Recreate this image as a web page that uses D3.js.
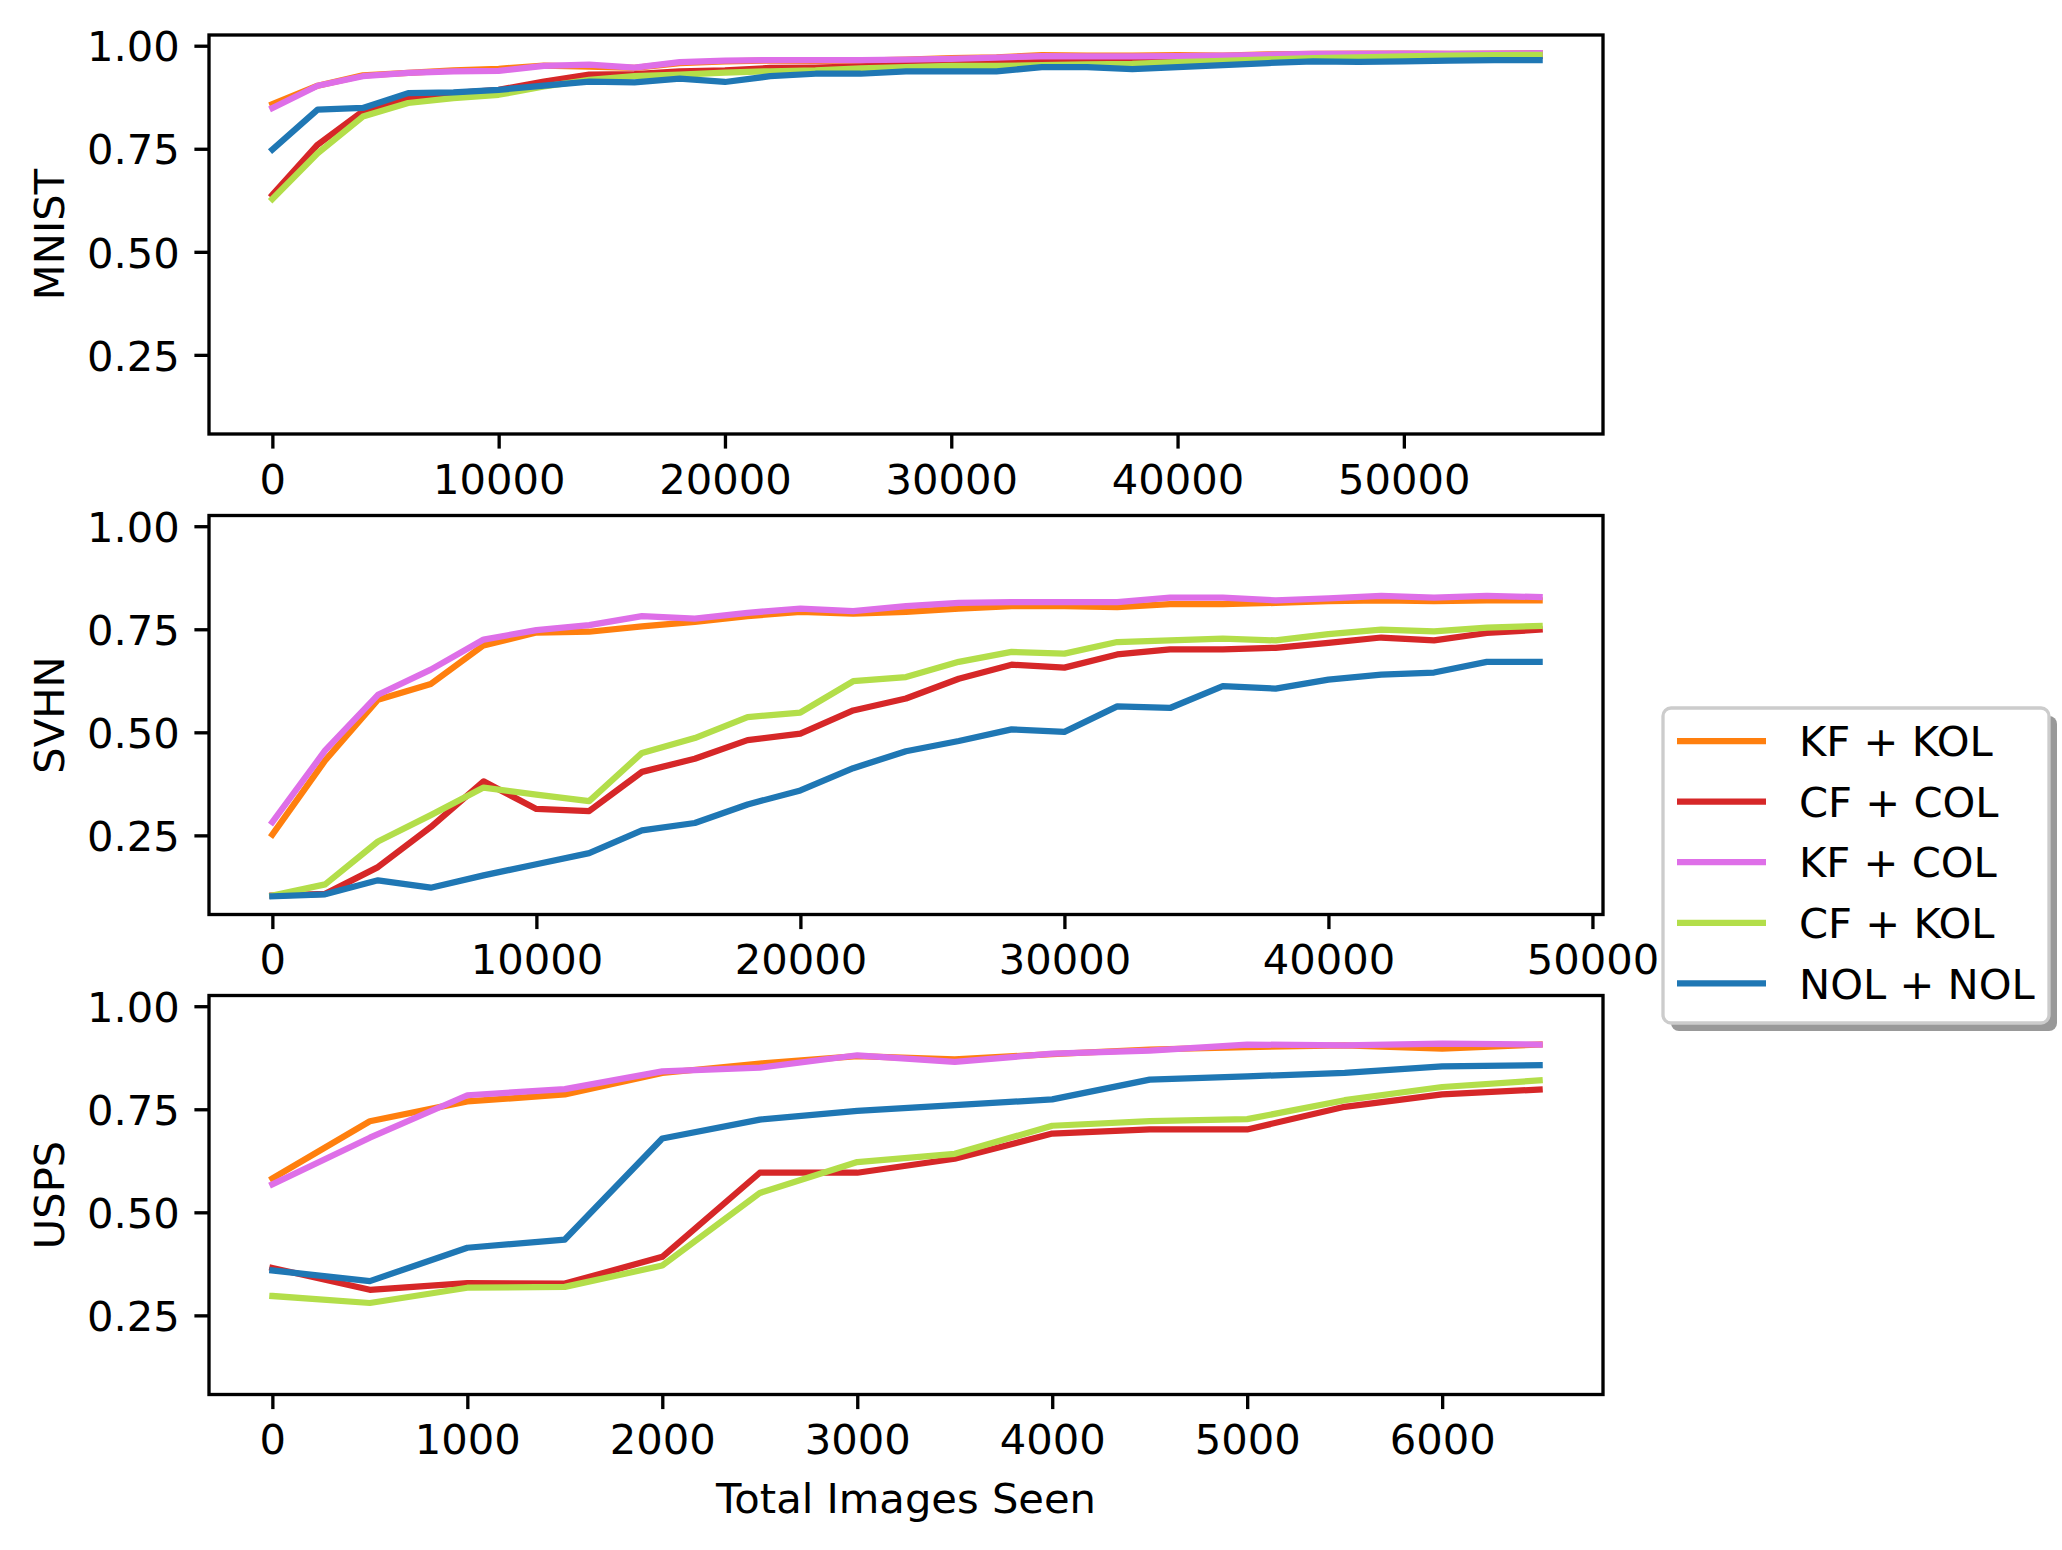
<!DOCTYPE html>
<html>
<head>
<meta charset="utf-8">
<script src="https://cdn.jsdelivr.net/npm/d3@7"></script>
<style>
  html, body { margin: 0; padding: 0; background: #ffffff; }
  svg { display: block; }
  text { font-family: "DejaVu Sans", sans-serif; fill: #000; }
</style>
</head>
<body>
<div id="chart"></div>
<script>
// ---------------- DATA ----------------
const seriesNames = ["KF + KOL", "CF + COL", "KF + COL", "CF + KOL", "NOL + NOL"];
const seriesColors = ["#ff7f0e", "#d62728", "#de6fe8", "#b3de4a", "#1f77b4"];
const panelNames = ["MNIST", "SVHN", "USPS"];

// MNIST: x = 0..56000 step 2000
const mnistX = [0,2000,4000,6000,8000,10000,12000,14000,16000,18000,20000,22000,24000,26000,28000,30000,32000,34000,36000,38000,40000,42000,44000,46000,48000,50000,52000,54000,56000];
const mnistKFKOL = [0.858,0.903,0.928,0.934,0.940,0.944,0.952,0.949,0.946,0.958,0.962,0.964,0.963,0.964,0.966,0.970,0.972,0.977,0.976,0.976,0.977,0.976,0.979,0.980,0.981,0.981,0.980,0.981,0.982];
const mnistCFCOL = [0.638,0.760,0.841,0.873,0.885,0.893,0.913,0.930,0.931,0.938,0.940,0.946,0.947,0.950,0.955,0.958,0.958,0.960,0.961,0.962,0.964,0.965,0.967,0.969,0.970,0.972,0.973,0.974,0.975];
const mnistKFCOL = [0.849,0.903,0.926,0.934,0.938,0.939,0.951,0.954,0.947,0.960,0.964,0.965,0.965,0.965,0.966,0.968,0.971,0.975,0.974,0.974,0.975,0.976,0.978,0.980,0.980,0.981,0.980,0.981,0.982];
const mnistCFKOL = [0.628,0.739,0.828,0.861,0.873,0.881,0.901,0.917,0.926,0.930,0.935,0.938,0.940,0.945,0.948,0.951,0.951,0.953,0.955,0.956,0.960,0.963,0.967,0.970,0.972,0.974,0.976,0.977,0.978];
const mnistNOL   = [0.748,0.845,0.849,0.885,0.887,0.893,0.903,0.913,0.911,0.920,0.912,0.926,0.932,0.932,0.938,0.938,0.938,0.948,0.948,0.943,0.948,0.953,0.958,0.962,0.961,0.962,0.964,0.965,0.965];

// SVHN: x = 0..48000 step 2000
const svhnX = [0,2000,4000,6000,8000,10000,12000,14000,16000,18000,20000,22000,24000,26000,28000,30000,32000,34000,36000,38000,40000,42000,44000,46000,48000];
const svhnKFKOL = [0.252,0.432,0.579,0.617,0.711,0.742,0.744,0.757,0.768,0.782,0.792,0.788,0.792,0.800,0.806,0.806,0.804,0.811,0.811,0.814,0.818,0.820,0.818,0.820,0.820];
const svhnCFCOL = [0.104,0.108,0.173,0.270,0.381,0.314,0.309,0.404,0.436,0.481,0.497,0.553,0.582,0.630,0.664,0.657,0.689,0.701,0.701,0.705,0.717,0.730,0.723,0.741,0.749];
const svhnKFCOL = [0.282,0.456,0.591,0.652,0.725,0.748,0.760,0.782,0.776,0.790,0.800,0.794,0.806,0.814,0.816,0.816,0.816,0.827,0.827,0.820,0.825,0.831,0.827,0.831,0.828];
const svhnCFKOL = [0.104,0.131,0.235,0.299,0.366,0.349,0.333,0.450,0.486,0.537,0.548,0.624,0.634,0.671,0.695,0.691,0.719,0.723,0.727,0.723,0.738,0.749,0.745,0.754,0.758];
const svhnNOL   = [0.102,0.107,0.141,0.123,0.153,0.180,0.207,0.262,0.280,0.325,0.359,0.413,0.454,0.479,0.507,0.501,0.563,0.559,0.612,0.606,0.628,0.640,0.645,0.671,0.671];

// USPS: x = 0..6500 step 500
const uspsX = [0,500,1000,1500,2000,2500,3000,3500,4000,4500,5000,5500,6000,6500];
const uspsKFKOL = [0.582,0.721,0.769,0.786,0.838,0.861,0.879,0.871,0.884,0.895,0.901,0.905,0.897,0.907];
const uspsCFCOL = [0.365,0.312,0.328,0.327,0.392,0.596,0.596,0.630,0.691,0.701,0.701,0.756,0.786,0.798];
const uspsKFCOL = [0.568,0.681,0.784,0.799,0.842,0.851,0.881,0.865,0.885,0.892,0.907,0.905,0.909,0.907];
const uspsCFKOL = [0.297,0.280,0.317,0.319,0.371,0.547,0.622,0.642,0.710,0.721,0.726,0.772,0.804,0.820];
const uspsNOL   = [0.359,0.333,0.414,0.434,0.679,0.725,0.746,0.760,0.774,0.822,0.830,0.838,0.854,0.857];

const xTicksMNIST = [0,10000,20000,30000,40000,50000];
const xTicksSVHN  = [0,10000,20000,30000,40000,50000];
const xTicksUSPS  = [0,1000,2000,3000,4000,5000,6000];
const yTicks = [0.25,0.50,0.75,1.00];
const xAxisLabel = "Total Images Seen";

// ---------------- BUILD ----------------
const panels = [
  { name: panelNames[0], x: mnistX, ys: [mnistKFKOL, mnistCFCOL, mnistKFCOL, mnistCFKOL, mnistNOL], ticks: xTicksMNIST },
  { name: panelNames[1], x: svhnX,  ys: [svhnKFKOL, svhnCFCOL, svhnKFCOL, svhnCFKOL, svhnNOL], ticks: xTicksSVHN },
  { name: panelNames[2], x: uspsX,  ys: [uspsKFKOL, uspsCFCOL, uspsKFCOL, uspsCFKOL, uspsNOL], ticks: xTicksUSPS }
];

const W = 2062, H = 1550;
const FS = 41.67;          // 10pt @ 300dpi
const LW = 6.25;           // 1.5pt
const SPW = 3.33;          // 0.8pt
const TL = 14.6;           // tick length
const PAD = 14.6;          // tick pad
const axLeft = 209, axRight = 1603, axH = 399;
const axTops = [35, 515.5, 995.5];

// shared y domain with matplotlib-like 5% margins
const allY = panels.flatMap(p => p.ys.flat());
const yMin = d3.min(allY), yMax = d3.max(allY);
const ySpan = yMax - yMin;
const yDomain = [yMin - 0.05 * ySpan, yMax + 0.05 * ySpan];

const svg = d3.select("#chart").append("svg")
  .attr("width", W).attr("height", H)
  .attr("viewBox", `0 0 ${W} ${H}`);

svg.append("rect").attr("width", W).attr("height", H).attr("fill", "#fff");

panels.forEach((p, i) => {
  const top = axTops[i], bottom = top + axH;
  const xMax = d3.max(p.x), xMinD = d3.min(p.x);
  const xs = xMax - xMinD;
  const x = d3.scaleLinear().domain([xMinD - 0.05 * xs, xMax + 0.05 * xs]).range([axLeft, axRight]);
  const y = d3.scaleLinear().domain(yDomain).range([bottom, top]);

  const g = svg.append("g");
  const clipId = "clip" + i;
  svg.append("clipPath").attr("id", clipId)
    .append("rect").attr("x", axLeft).attr("y", top).attr("width", axRight - axLeft).attr("height", axH);

  const line = d3.line().x(d => x(d[0])).y(d => y(d[1]));
  const lines = g.append("g").attr("clip-path", `url(#${clipId})`);
  p.ys.forEach((vals, k) => {
    lines.append("path")
      .datum(p.x.map((xv, j) => [xv, vals[j]]))
      .attr("d", line)
      .attr("fill", "none")
      .attr("stroke", seriesColors[k])
      .attr("stroke-width", LW)
      .attr("stroke-linejoin", "round")
      .attr("stroke-linecap", "square");
  });

  // axes via d3 axis generators
  const xAxis = d3.axisBottom(x).tickValues(p.ticks).tickSize(TL).tickPadding(PAD).tickFormat(d3.format("d"));
  const yAxis = d3.axisLeft(y).tickValues(yTicks).tickSize(TL).tickPadding(PAD).tickFormat(d3.format(".2f"));

  const gx = g.append("g").attr("transform", `translate(0,${bottom})`).call(xAxis);
  const gy = g.append("g").attr("transform", `translate(${axLeft},0)`).call(yAxis);
  [gx, gy].forEach(a => {
    a.select(".domain").remove();
    a.selectAll(".tick line").attr("stroke", "#000").attr("stroke-width", SPW);
    a.selectAll(".tick text").attr("font-size", FS).attr("font-family", "DejaVu Sans").attr("fill", "#000");
  });
  gx.selectAll(".tick text").attr("dy", null).attr("y", TL + PAD + 30.5);
  gy.selectAll(".tick text").attr("dy", null).attr("dominant-baseline", null).attr("y", 15.2);

  // spines
  g.append("rect")
    .attr("x", axLeft).attr("y", top)
    .attr("width", axRight - axLeft).attr("height", axH)
    .attr("fill", "none").attr("stroke", "#000").attr("stroke-width", SPW);

  // y label
  g.append("text")
    .attr("transform", `translate(64,${top + axH / 2}) rotate(-90)`)
    .attr("text-anchor", "middle")
    .attr("font-size", FS)
    .text(p.name);

  if (i === panels.length - 1) {
    g.append("text")
      .attr("x", (axLeft + axRight) / 2)
      .attr("y", bottom + 118)
      .attr("text-anchor", "middle")
      .attr("font-size", FS)
      .text(xAxisLabel);
  }
});

// ---------------- LEGEND ----------------
const lg = svg.append("g");
const lx = 1663, ly = 708, lw = 386, lh = 315;
lg.append("rect").attr("x", lx + 8).attr("y", ly + 8).attr("width", lw).attr("height", lh)
  .attr("rx", 8).attr("fill", "#999999");
lg.append("rect").attr("x", lx).attr("y", ly).attr("width", lw).attr("height", lh)
  .attr("rx", 8).attr("fill", "#ffffff").attr("stroke", "#cccccc").attr("stroke-width", SPW);
seriesNames.forEach((name, k) => {
  const cy = 741 + k * 60.6;
  lg.append("line").attr("x1", 1677).attr("x2", 1766).attr("y1", cy).attr("y2", cy)
    .attr("stroke", seriesColors[k]).attr("stroke-width", LW);
  lg.append("text").attr("x", 1799).attr("y", cy + 15.2).attr("font-size", FS).text(name);
});
</script>
</body>
</html>
